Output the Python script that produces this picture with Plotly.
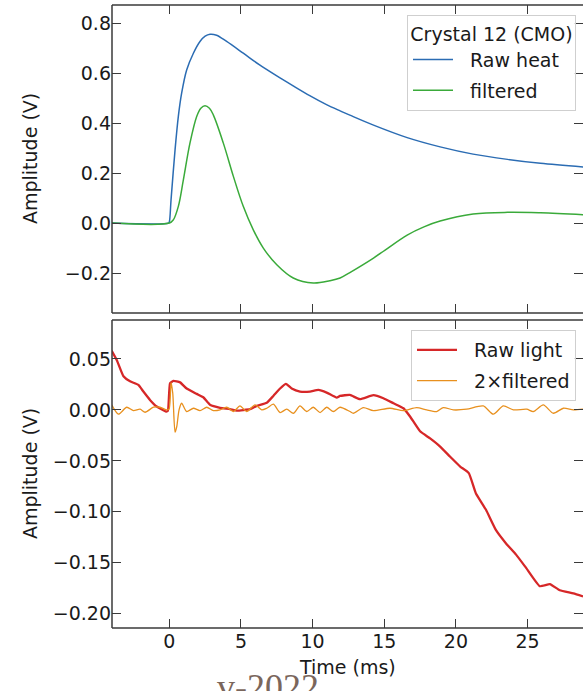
import plotly.graph_objects as go

# ---------------- data ----------------
heat_raw_t = [-4.0, -0.05, 0.0, 0.12, 0.40, 0.63, 0.86, 1.21, 1.68, 2.14, 2.5, 2.84, 3.3, 4.0,
              5.16, 6.3, 7.5, 8.65, 9.8, 10.97, 11.92, 12.6, 14.25, 16.6, 18.9, 21.2, 23.6,
              25.9, 28.9]
heat_raw_v = [0.0, 0.0, 0.004, 0.093, 0.293, 0.427, 0.52, 0.613, 0.68, 0.727, 0.748, 0.756,
              0.752, 0.727, 0.68, 0.633, 0.589, 0.549, 0.51, 0.474, 0.449, 0.432, 0.392, 0.342,
              0.305, 0.276, 0.255, 0.239, 0.224]

heat_filt_t = [-4.0, 0.0, 0.28, 0.63, 0.98, 1.44, 1.91, 2.2, 2.49, 2.8, 3.07, 3.77, 4.47, 5.16,
               5.86, 6.56, 7.5, 8.65, 10.05, 11.2, 11.92, 12.6, 14.25, 15.06, 16.6, 17.77, 18.9,
               21.2, 23.6, 25.9, 28.9]
heat_filt_v = [0.0, 0.0, 0.013, 0.067, 0.173, 0.32, 0.427, 0.46, 0.47, 0.46, 0.433, 0.32,
               0.187, 0.067, -0.027, -0.1, -0.167, -0.22, -0.24, -0.231, -0.22, -0.198, -0.14,
               -0.108, -0.048, -0.015, 0.008, 0.036, 0.043, 0.041, 0.033]

light_raw_t = [-4.02, -3.67, -3.2, -2.74, -2.16, -1.81, -1.35, -0.88, -0.23, -0.1, 0.05, 0.28,
               0.75, 1.21, 1.91, 2.37, 2.84, 3.54, 4.23, 4.7, 5.63, 6.1, 6.8, 7.26, 7.73, 8.14,
               8.54, 9.12, 9.82, 10.4, 10.98, 11.68, 11.91, 12.6, 13.3, 14.25, 14.94, 15.64,
               16.34, 16.8, 17.5, 18.2, 18.9, 19.6, 20.3, 20.9, 21.4, 22.1, 22.8, 23.5, 24.2,
               24.9, 25.86, 26.56, 27.25, 28.2, 28.87]
light_raw_v = [0.058, 0.049, 0.033, 0.028, 0.0245, 0.018, 0.0098, 0.0033, -0.0016, -0.001,
               0.026, 0.0284, 0.027, 0.021, 0.0157, 0.0124, 0.005, 0.002, 0.0007, -0.0007,
               0.0007, 0.004, 0.007, 0.0137, 0.021, 0.0255, 0.021, 0.018, 0.018, 0.0196, 0.017,
               0.012, 0.0137, 0.0147, 0.0105, 0.0144, 0.0114, 0.0065, 0.0016, -0.0065, -0.021,
               -0.028, -0.036, -0.046, -0.0556, -0.062, -0.082, -0.098, -0.118, -0.131, -0.142,
               -0.155, -0.173, -0.171, -0.177, -0.18, -0.183]

light_filt_t = [-4.02, -3.55, -2.97, -2.5, -2.04, -1.69, -1.11, -0.65, -0.18, -0.02, 0.12,
                0.24, 0.40, 0.52, 0.68, 0.86, 1.21, 1.68, 2.14, 2.61, 3.07, 3.54, 4.0, 4.47,
                4.93, 5.4, 5.98, 6.45, 6.8, 7.26, 7.73, 8.19, 8.66, 9.12, 9.59, 10.05, 10.52,
                10.98, 11.45, 11.91, 12.61, 12.84, 13.54, 14.24, 15.4, 16.33, 17.26, 17.96,
                18.66, 19.12, 19.82, 20.75, 21.91, 22.61, 23.31, 24.01, 24.94, 25.4, 26.1,
                26.8, 27.5, 28.2, 28.87]
light_filt_v = [0.0049, -0.0042, 0.0026, -0.0007, 0.0007, -0.0023, 0.0026, 0.0026, 0.0, 0.0007,
                0.0268, 0.0163, -0.0219, -0.0163, 0.0, 0.0065, -0.0016, 0.0016, -0.0007, 0.0026,
                -0.0007, 0.0, 0.0026, -0.0016, 0.0039, -0.0016, 0.0049, 0.0, 0.0016, 0.0056,
                -0.0026, 0.0007, -0.0033, 0.0039, -0.0016, 0.0026, -0.0026, 0.0026, -0.0016,
                0.0026, -0.0016, -0.0033, 0.0023, -0.0007, 0.0016, -0.0007, 0.0023, 0.0,
                -0.0016, 0.0023, 0.0, 0.0007, 0.0039, -0.0042, 0.0039, 0.0, 0.0007, -0.0016,
                0.0049, -0.0033, 0.0016, 0.0, 0.0007]

x_ticks = [0, 5, 10, 15, 20, 25]
top_y_ticks = [-0.2, 0.0, 0.2, 0.4, 0.6, 0.8]
bot_y_ticks = [-0.20, -0.15, -0.10, -0.05, 0.00, 0.05]

x_range = [-4.0, 28.87]
top_y_range = [-0.36, 0.873]
bot_y_range = [-0.214, 0.0882]

# ---------------- figure ----------------
W, H = 583, 691
ML, MR, MT, MB = 112, 0, 5, 63
PW, PH = W - ML - MR, H - MT - MB

def py(px):  # pixel y -> paper y
    return (H - MB - px) / PH

def pxx(px):  # pixel x -> paper x
    return (px - ML) / PW

FONT = "DejaVu Sans"
FS = 19
TXT = "#1a1a1a"
SPINE = "#3a3a3a"
NB = "\u00a0\u00a0"

fig = go.Figure()
fig.add_trace(go.Scatter(x=heat_raw_t, y=heat_raw_v, mode="lines", name=NB + "Raw heat",
                         line=dict(color="#2b6cb3", width=1.5, shape="spline", smoothing=0.9),
                         xaxis="x", yaxis="y", legend="legend", legendgroup="a"))
fig.add_trace(go.Scatter(x=heat_filt_t, y=heat_filt_v, mode="lines", name=NB + "filtered",
                         line=dict(color="#3aaa3a", width=1.5, shape="spline", smoothing=1.0),
                         xaxis="x", yaxis="y", legend="legend", legendgroup="b"))
fig.add_trace(go.Scatter(x=light_raw_t, y=light_raw_v, mode="lines", name=NB + "Raw light",
                         line=dict(color="#d62728", width=2.3, shape="spline", smoothing=0.4),
                         xaxis="x2", yaxis="y2", legend="legend2", legendgroup="c"))
fig.add_trace(go.Scatter(x=light_filt_t, y=light_filt_v, mode="lines", name=NB + "2×filtered",
                         line=dict(color="#e8901e", width=1.3, shape="spline", smoothing=0.7),
                         xaxis="x2", yaxis="y2", legend="legend2", legendgroup="d"))

axis_common = dict(ticks="inside", ticklen=9, tickwidth=1.3, tickcolor=SPINE,
                   mirror="ticks", showline=False, showgrid=False, zeroline=False,
                   tickfont=dict(family=FONT, size=FS, color=TXT))

top_dom = [py(313), 1.0]
bot_dom = [0.0, py(320)]

legend_common = dict(bgcolor="rgba(255,255,255,0.85)", bordercolor="#cfcfcf", borderwidth=1,
                     font=dict(family=FONT, size=FS, color=TXT), itemwidth=40,
                     tracegroupgap=3, xanchor="right", yanchor="top", x=pxx(576))

fig.update_layout(
    width=W, height=H,
    margin=dict(l=ML, r=MR, t=MT, b=MB, pad=0),
    paper_bgcolor="white", plot_bgcolor="white",
    font=dict(family=FONT, size=FS, color=TXT),
    xaxis=dict(domain=[0, 1], anchor="y", range=x_range, tickvals=x_ticks,
               showticklabels=False, **axis_common),
    yaxis=dict(domain=top_dom, anchor="x", range=top_y_range, tickvals=top_y_ticks,
               tickformat=".1f", **axis_common),
    xaxis2=dict(domain=[0, 1], anchor="y2", range=x_range, tickvals=x_ticks,
                matches="x", showticklabels=True, **axis_common),
    yaxis2=dict(domain=bot_dom, anchor="x2", range=bot_y_range, tickvals=bot_y_ticks,
                tickformat=".2f", **axis_common),
    legend=dict(y=py(15),
                title=dict(text="Crystal 12 (CMO)", side="top center",
                           font=dict(family=FONT, size=FS, color=TXT)),
                **legend_common),
    legend2=dict(y=py(330), **legend_common),
    showlegend=True,
)

# spines (left, top, bottom) for each panel
shapes = []
for xr, yr in (("x", "y"), ("x2", "y2")):
    for (x0, y0, x1, y1) in ((0, 0, 0, 1), (0, 1, 1.01, 1), (0, 0, 1.01, 0)):
        shapes.append(dict(type="line", xref=f"{xr} domain", yref=f"{yr} domain",
                           x0=x0, y0=y0, x1=x1, y1=y1,
                           line=dict(color=SPINE, width=1.5)))
fig.update_layout(shapes=shapes)

annotations = [
    dict(text="v-2022", xref="paper", yref="paper", x=pxx(215), y=py(665),
         xanchor="left", yanchor="top", showarrow=False,
         font=dict(family="Liberation Serif", size=36, color="#7a665c")),
    dict(text="Amplitude (V)", xref="paper", yref="paper", x=pxx(30),
         y=(top_dom[0] + top_dom[1]) / 2, textangle=-90, showarrow=False,
         xanchor="center", yanchor="middle", font=dict(family=FONT, size=FS, color=TXT)),
    dict(text="Amplitude (V)", xref="paper", yref="paper", x=pxx(30),
         y=(bot_dom[0] + bot_dom[1]) / 2, textangle=-90, showarrow=False,
         xanchor="center", yanchor="middle", font=dict(family=FONT, size=FS, color=TXT)),
    dict(text="Time (ms)", xref="paper", yref="paper", x=0.5, y=py(667),
         xanchor="center", yanchor="middle", showarrow=False,
         font=dict(family=FONT, size=FS, color=TXT)),
]
fig.update_layout(annotations=annotations)

fig.write_html("out.html")
